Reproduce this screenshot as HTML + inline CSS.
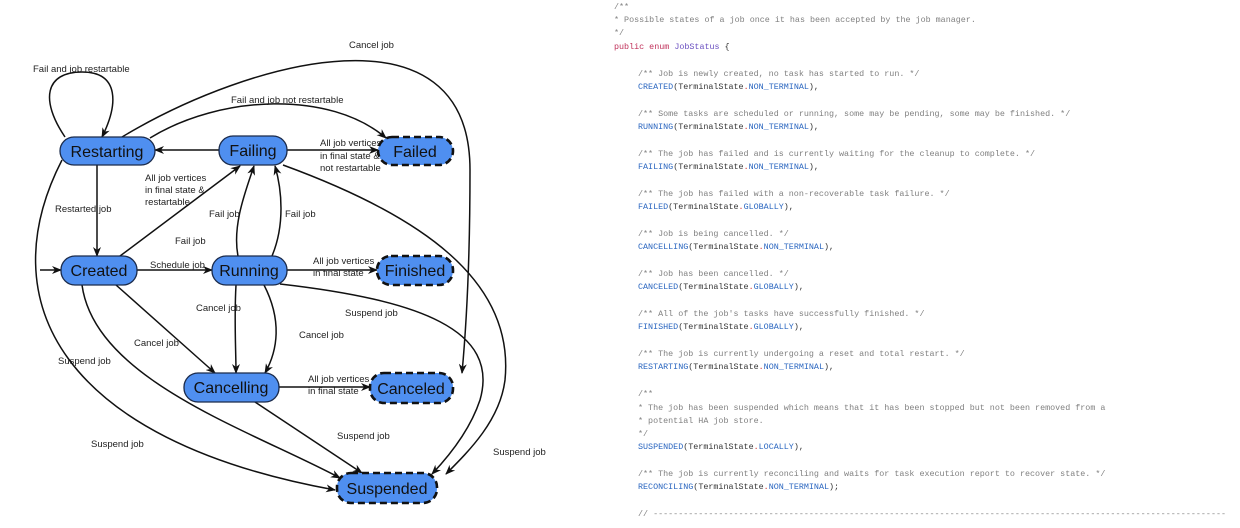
<!DOCTYPE html>
<html><head><meta charset="utf-8"><style>
html,body{margin:0;padding:0;background:#fff;width:1240px;height:528px;overflow:hidden}
.n{fill:#4f8ff0;stroke:#1a2a4a;stroke-width:1.3}
.d{fill:#4f8ff0;stroke:#111;stroke-width:2.6;stroke-dasharray:7,4}
.nt{font:16px "Liberation Sans",sans-serif;fill:#111;text-anchor:middle}
.l{font:9.5px "Liberation Sans",sans-serif;fill:#222}
.e{fill:none;stroke:#111;stroke-width:1.5}
.c{font:8.4px "Liberation Mono",monospace;fill:#333;white-space:pre}
.g{fill:#808080}.k{fill:#c0305a}.p{fill:#6a4fc0}.b{fill:#2a66c0}.r{fill:#d03030}
</style></head><body>
<svg width="1240" height="528" xmlns="http://www.w3.org/2000/svg" xml:space="preserve">
<defs><marker id="a" markerWidth="10" markerHeight="8" refX="9" refY="4" orient="auto" markerUnits="userSpaceOnUse"><path d="M0,0 L10,4 L0,8 L3,4 z" fill="#111"/></marker></defs>
<g class="e" marker-end="url(#a)">
<path d="M40,270 L61,270"/>
<path d="M137,270 L212,270"/>
<path d="M287,270 L377,270"/>
<path d="M287,150 L378,150"/>
<path d="M219,150 L155,150"/>
<path d="M97,165 L97,256"/>
<path d="M120,256 L240,166"/>
<path d="M238,256 C232,225 246,190 254,166"/>
<path d="M272,256 C285,225 282,190 275,166"/>
<path d="M65,137 C40,100 45,72 82,72 C120,72 118,105 102,137"/>
<path d="M150,138 C220,95 330,90 386,138"/>
<path d="M122,137 C250,60 470,0 470,170 C470,260 466,330 462,373"/>
<path d="M283,165 C420,215 515,280 505,380 C500,420 470,450 446,474"/>
<path d="M280,284 C420,300 500,330 480,400 C470,430 450,455 432,474"/>
<path d="M236,285 C234,320 236,350 236,373"/>
<path d="M264,285 C282,320 278,350 265,373"/>
<path d="M116,285 L215,373"/>
<path d="M82,285 C95,380 250,430 340,478"/>
<path d="M62,160 C-10,300 60,440 335,490"/>
<path d="M279,387 L370,387"/>
<path d="M255,402 L362,473"/>
</g>
<g class="l">
<text x="150" y="268">Schedule job</text>
<text x="313" y="264">All job vertices</text><text x="313" y="276">in final state</text>
<text x="320" y="146">All job vertices</text><text x="320" y="159">in final state &amp;</text><text x="320" y="171">not restartable</text>
<text x="55" y="212">Restarted job</text>
<text x="145" y="181">All job vertices</text><text x="145" y="193">in final state &amp;</text><text x="145" y="205">restartable</text>
<text x="175" y="244">Fail job</text>
<text x="209" y="217">Fail job</text>
<text x="285" y="217">Fail job</text>
<text x="33" y="72">Fail and job restartable</text>
<text x="231" y="103">Fail and job not restartable</text>
<text x="349" y="48">Cancel job</text>
<text x="493" y="455">Suspend job</text>
<text x="345" y="316">Suspend job</text>
<text x="196" y="311">Cancel job</text>
<text x="299" y="338">Cancel job</text>
<text x="134" y="346">Cancel job</text>
<text x="58" y="364">Suspend job</text>
<text x="91" y="447">Suspend job</text>
<text x="308" y="382">All job vertices</text><text x="308" y="394">in final state</text>
<text x="337" y="439">Suspend job</text>
</g>
<rect class="n" x="60" y="137" width="95" height="28" rx="14"/><text class="nt" x="107" y="157">Restarting</text>
<rect class="n" x="219" y="136" width="68" height="29" rx="14"/><text class="nt" x="253" y="156">Failing</text>
<rect class="d" x="378" y="137" width="75" height="28" rx="14"/><text class="nt" x="415" y="157">Failed</text>
<rect class="n" x="61" y="256" width="76" height="29" rx="14"/><text class="nt" x="99" y="276">Created</text>
<rect class="n" x="212" y="256" width="75" height="29" rx="14"/><text class="nt" x="249" y="276">Running</text>
<rect class="d" x="377" y="256" width="76" height="29" rx="14"/><text class="nt" x="415" y="276">Finished</text>
<rect class="n" x="184" y="373" width="95" height="29" rx="14"/><text class="nt" x="231" y="393">Cancelling</text>
<rect class="d" x="370" y="373" width="83" height="30" rx="14"/><text class="nt" x="411" y="394">Canceled</text>
<rect class="d" x="337" y="473" width="100" height="30" rx="14"/><text class="nt" x="387" y="494">Suspended</text>
<g class="c">
<text x="614" y="9" class="g">/**</text>
<text x="614" y="22" class="g"> * Possible states of a job once it has been accepted by the job manager.</text>
<text x="614" y="35" class="g"> */</text>
<text x="614" y="49"><tspan class="k">public enum </tspan><tspan class="p">JobStatus</tspan> {</text>
<text x="638" y="76" class="g">/** Job is newly created, no task has started to run. */</text>
<text x="638" y="89"><tspan class="b">CREATED</tspan>(TerminalState<tspan class="r">.</tspan><tspan class="b">NON_TERMINAL</tspan>),</text>
<text x="638" y="116" class="g">/** Some tasks are scheduled or running, some may be pending, some may be finished. */</text>
<text x="638" y="129"><tspan class="b">RUNNING</tspan>(TerminalState<tspan class="r">.</tspan><tspan class="b">NON_TERMINAL</tspan>),</text>
<text x="638" y="156" class="g">/** The job has failed and is currently waiting for the cleanup to complete. */</text>
<text x="638" y="169"><tspan class="b">FAILING</tspan>(TerminalState<tspan class="r">.</tspan><tspan class="b">NON_TERMINAL</tspan>),</text>
<text x="638" y="196" class="g">/** The job has failed with a non-recoverable task failure. */</text>
<text x="638" y="209"><tspan class="b">FAILED</tspan>(TerminalState<tspan class="r">.</tspan><tspan class="b">GLOBALLY</tspan>),</text>
<text x="638" y="236" class="g">/** Job is being cancelled. */</text>
<text x="638" y="249"><tspan class="b">CANCELLING</tspan>(TerminalState<tspan class="r">.</tspan><tspan class="b">NON_TERMINAL</tspan>),</text>
<text x="638" y="276" class="g">/** Job has been cancelled. */</text>
<text x="638" y="289"><tspan class="b">CANCELED</tspan>(TerminalState<tspan class="r">.</tspan><tspan class="b">GLOBALLY</tspan>),</text>
<text x="638" y="316" class="g">/** All of the job's tasks have successfully finished. */</text>
<text x="638" y="329"><tspan class="b">FINISHED</tspan>(TerminalState<tspan class="r">.</tspan><tspan class="b">GLOBALLY</tspan>),</text>
<text x="638" y="356" class="g">/** The job is currently undergoing a reset and total restart. */</text>
<text x="638" y="369"><tspan class="b">RESTARTING</tspan>(TerminalState<tspan class="r">.</tspan><tspan class="b">NON_TERMINAL</tspan>),</text>
<text x="638" y="396" class="g">/**</text>
<text x="638" y="410" class="g"> * The job has been suspended which means that it has been stopped but not been removed from a</text>
<text x="638" y="423" class="g"> * potential HA job store.</text>
<text x="638" y="436" class="g"> */</text>
<text x="638" y="449"><tspan class="b">SUSPENDED</tspan>(TerminalState<tspan class="r">.</tspan><tspan class="b">LOCALLY</tspan>),</text>
<text x="638" y="476" class="g">/** The job is currently reconciling and waits for task execution report to recover state. */</text>
<text x="638" y="489"><tspan class="b">RECONCILING</tspan>(TerminalState<tspan class="r">.</tspan><tspan class="b">NON_TERMINAL</tspan>);</text>
<text x="638" y="516" class="g">// ------------------------------------------------------------------------------------------------------------------</text>
</g>
</svg>
</body></html>
